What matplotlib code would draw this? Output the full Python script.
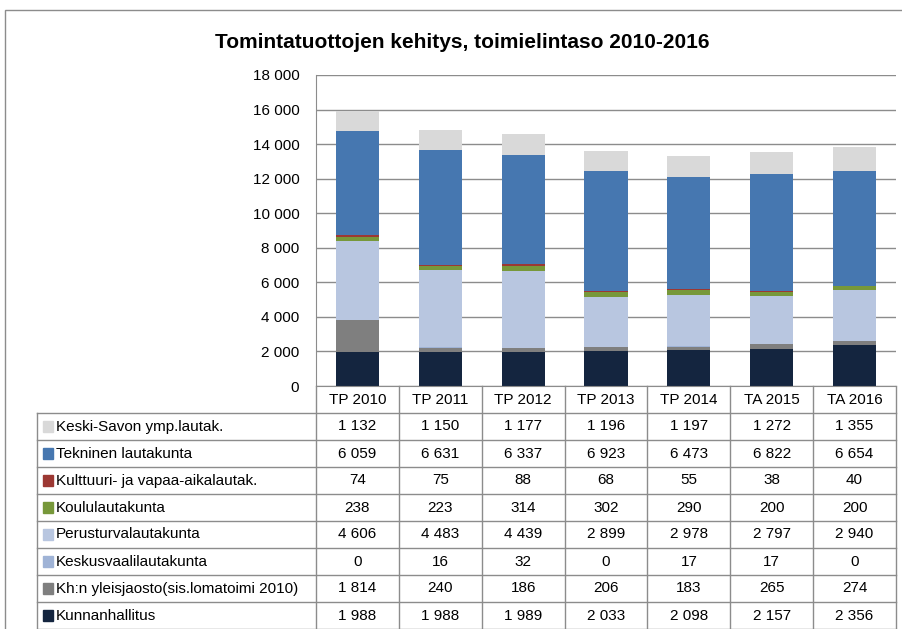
import matplotlib.pyplot as plt
from matplotlib.patches import Rectangle
import numpy as np

plt.rcParams['font.family'] = ['Liberation Sans Narrow', 'Liberation Sans', 'DejaVu Sans']

categories = ['TP 2010', 'TP 2011', 'TP 2012', 'TP 2013', 'TP 2014', 'TA 2015', 'TA 2016']

# bottom -> top stacking order
series = ['Kunnanhallitus', 'Kh:n yleisjaosto(sis.lomatoimi 2010)', 'Keskusvaalilautakunta',
          'Perusturvalautakunta', 'Koululautakunta', 'Kulttuuri- ja vapaa-aikalautak.',
          'Tekninen lautakunta', 'Keski-Savon ymp.lautak.']
kunnanhallitus = [1988, 1988, 1989, 2033, 2098, 2157, 2356]
kh_yleisjaosto = [1814, 240, 186, 206, 183, 265, 274]
keskusvaali = [0, 16, 32, 0, 17, 17, 0]
perusturva = [4606, 4483, 4439, 2899, 2978, 2797, 2940]
koulu = [238, 223, 314, 302, 290, 200, 200]
kulttuuri = [74, 75, 88, 68, 55, 38, 40]
tekninen = [6059, 6631, 6337, 6923, 6473, 6822, 6654]
keski_savon = [1132, 1150, 1177, 1196, 1197, 1272, 1355]
values = [kunnanhallitus, kh_yleisjaosto, keskusvaali, perusturva, koulu, kulttuuri, tekninen, keski_savon]
colors = ['#14253f', '#7f7f7f', '#9fb3d6', '#b8c6e0', '#77983a', '#9c3833', '#4677b0', '#d9d9d9']

W, H = 902, 629
fig = plt.figure(figsize=(W / 100, H / 100), dpi=100)

def px_axes(x0, y0, x1, y1):
    return fig.add_axes([x0 / W, 1 - y1 / H, (x1 - x0) / W, (y1 - y0) / H])

# outer frame
fig.patches.append(Rectangle((5 / W, -0.1), 1.2, 1 - 10 / H + 0.1, transform=fig.transFigure,
                             fill=False, edgecolor='#8c8c8c', linewidth=1))

fig.text(462 / W, 1 - 42 / H, 'Tomintatuottojen kehitys, toimielintaso 2010-2016',
         ha='center', va='center', fontsize=15, fontweight='bold')

# chart
x0_plot, x1_plot = 316, 896
ax = px_axes(x0_plot, 75, x1_plot, 386)
x = np.arange(len(categories))
bottom = np.zeros(len(categories))
for vals, c in zip(values, colors):
    ax.bar(x, vals, bottom=bottom, width=0.52, color=c, edgecolor='none', zorder=2)
    bottom += np.array(vals)
ax.set_xlim(-0.5, len(categories) - 0.5)
ax.set_ylim(0, 18000)
ax.set_yticks(np.arange(0, 18001, 2000))
ax.set_yticklabels([f'{v:,}'.replace(',', ' ') for v in range(0, 18001, 2000)], fontsize=11)
ax.yaxis.grid(True, color='#8c8c8c', linewidth=1, zorder=0)
ax.tick_params(axis='y', length=0, pad=12)
ax.set_xticks([])
for s in ['top', 'right']:
    ax.spines[s].set_visible(False)
ax.spines['left'].set_color('#8c8c8c')
ax.spines['bottom'].set_color('#8c8c8c')

# data table
cat_px = (x1_plot - x0_plot) / len(categories)
lab_w = (x0_plot - 37) / cat_px
tab = px_axes(37, 386, x1_plot, 629)
tab.set_xlim(-0.5 - lab_w, len(categories) - 0.5)
tab.set_ylim(9, 0)
tab.axis('off')
lc = '#8c8c8c'
for k in range(len(categories) + 1):
    tab.plot([k - 0.5, k - 0.5], [0, 9], color=lc, lw=1, clip_on=False)
tab.plot([-0.5 - lab_w] * 2, [1, 9], color=lc, lw=1, clip_on=False)
for r in range(1, 10):
    tab.plot([-0.5 - lab_w, len(categories) - 0.5], [r, r], color=lc, lw=1, clip_on=False)
for i, c in enumerate(categories):
    tab.text(i, 0.5, c, ha='center', va='center', fontsize=11)
x_left = -0.5 - lab_w
for r, (name, vals, c) in enumerate(zip(series[::-1], values[::-1], colors[::-1])):
    y = r + 1.5
    tab.add_patch(Rectangle((x_left + 6 / cat_px, y - 0.19), 10 / cat_px, 0.38, color=c, clip_on=False))
    tab.text(x_left + 19 / cat_px, y, name, ha='left', va='center', fontsize=11)
    for i, v in enumerate(vals):
        tab.text(i, y, f'{v:,}'.replace(',', ' '), ha='center', va='center', fontsize=11)

fig.savefig('out.png', dpi=100)
